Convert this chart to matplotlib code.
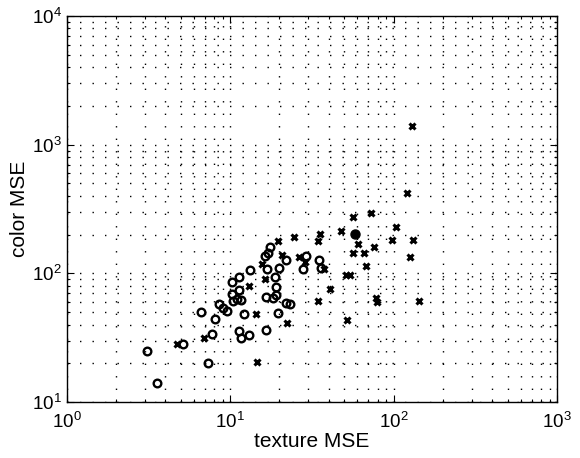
import numpy as np
import matplotlib.pyplot as plt

plt.rcParams['font.family'] = ['Liberation Sans', 'DejaVu Sans']
plt.rcParams['mathtext.fontset'] = 'custom'
plt.rcParams['mathtext.rm'] = 'Liberation Sans'
plt.rcParams['mathtext.default'] = 'regular'
plt.rcParams['lines.scale_dashes'] = False

# open circles
circ_x = [3.10, 3.57, 5.15, 7.33, 6.61, 7.67, 8.06, 8.56, 8.98, 9.50,
          10.2, 10.3, 10.4, 11.0, 11.3, 11.6, 11.3, 13.2, 12.2, 11.3,
          11.7, 13.1, 16.5, 16.5, 16.8, 16.3, 17.1, 17.5, 19.9, 18.9,
          19.0, 19.0, 18.3, 19.7, 21.9, 21.9, 23.1, 29.1, 28.0, 35.0, 35.9]
circ_y = [24.8, 14.1, 28.2, 20.2, 49.7, 34.0, 44.4, 58.2, 53.7, 50.7,
          69.0, 85.7, 61.2, 63.1, 74.1, 62.4, 93.0, 106, 48.2, 35.6,
          31.3, 33.1, 36.5, 65.8, 108, 137, 143, 159, 110, 94.2,
          78.3, 67.6, 63.8, 48.9, 126, 58.6, 57.7, 136, 108, 128, 110]

# crosses
cross_x = [4.69, 6.92, 13.0, 14.4, 14.5, 15.6, 16.3, 19.5, 20.6, 22.3,
           24.4, 26.5, 28.5, 34.4, 35.3, 37.5, 34.2, 40.7, 47.6, 56.1,
           60.5, 56.1, 65.7, 72.3, 76.3, 67.7, 51.1, 54.4, 51.8, 77.6,
           79.6, 129, 121, 103, 98.1, 132, 126, 142]
cross_y = [28.2, 31.7, 79.4, 48.2, 20.5, 119, 90.1, 177, 140, 40.9,
           193, 133, 122, 177, 203, 108, 61.2, 75.5, 215, 274,
           170, 143, 145, 292, 161, 113, 97.3, 97.3, 43.0, 64.1,
           60.1, 1396, 420, 231, 180, 180, 135, 61.2]

# filled circle
best_x = [58.4]
best_y = [202]

fig = plt.figure(figsize=(5.8, 4.58), dpi=100)
ax = fig.add_axes([0.1155, 0.1223, 0.8448, 0.8428])
ax.set_xscale('log')
ax.set_yscale('log')
ax.set_xlim(1, 1000)
ax.set_ylim(10, 10000)
ax.grid(True, which='both', color='k', linestyle=(0, (1, 8)), linewidth=1.0)
ax.set_axisbelow(True)

ax.plot(cross_x, cross_y, 'x', color='k', ms=4.5, mew=2.2, linestyle='none')
ax.plot(circ_x, circ_y, 'o', mfc='none', mec='k', ms=5.5, mew=1.7, linestyle='none')
ax.plot(best_x, best_y, 'o', color='k', ms=6.5, linestyle='none')

ax.tick_params(which='both', direction='in', top=True, right=True,
               labelsize=13.5, width=0.8)
ax.tick_params(which='major', length=5)
ax.tick_params(which='minor', length=2.5)
ax.tick_params(axis='x', which='major', pad=7)
ax.tick_params(axis='y', which='major', pad=4)
for s in ax.spines.values():
    s.set_linewidth(1.0)

ax.set_xlabel('texture MSE', fontsize=15, labelpad=0)
ax.set_ylabel('color MSE', fontsize=15, labelpad=2)

fig.savefig('out.png')
